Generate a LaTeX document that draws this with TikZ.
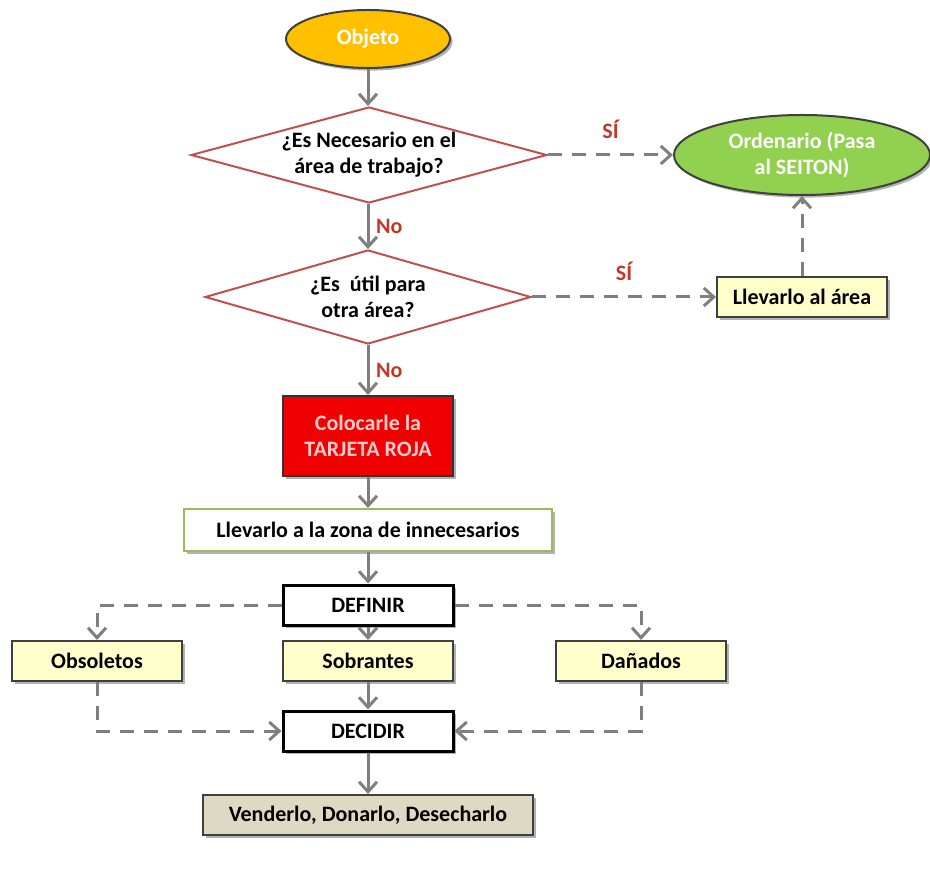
\documentclass[tikz,border=0pt]{standalone}
\usepackage{fontspec}
\setmainfont{Carlito}
\usetikzlibrary{shapes.geometric, arrows.meta, shadows}

\definecolor{arrowgray}{HTML}{7F7F7F}
\definecolor{answerred}{HTML}{C0392B}
\definecolor{diamondred}{HTML}{C0504D}
\definecolor{objetofill}{HTML}{FFC000}
\definecolor{ordenfill}{HTML}{92D050}
\definecolor{tagred}{HTML}{F00000}
\definecolor{paleyellow}{HTML}{FFFFCC}
\definecolor{zonegreen}{HTML}{9BBB59}
\definecolor{tanfill}{HTML}{DDD9C3}
\definecolor{boxborder}{HTML}{404040}

\begin{document}
\begin{tikzpicture}[x=0.5pt, y=-0.5pt,
    every node/.style={font=\fontsize{11}{13}\selectfont\bfseries},
    shade/.style={drop shadow={shadow xshift=1.3pt, shadow yshift=-1.3pt, fill=black, opacity=0.3}},
    block/.style={draw=boxborder, line width=1pt, rectangle, minimum width=85pt, minimum height=20pt, align=center, shade},
    keybox/.style={block, draw=black, line width=1.5pt, fill=white},
    oval/.style={draw=black!75, line width=1pt, ellipse, inner sep=0pt, align=center, text=white, shade},
    decision/.style={draw=diamondred, line width=1pt, diamond, shape aspect=3.7, inner sep=0pt, align=center, fill=white},
    answer/.style={text=answerred},
    arrow/.style={-{Straight Barb[length=5pt, width=9pt]}, line width=1.5pt, draw=arrowgray},
    dashedline/.style={dash pattern=on 7pt off 5pt}]

    \useasboundingbox (0,0) rectangle (930,876);

    % Nodes
    \node[oval, fill=objetofill, minimum width=82pt, minimum height=29pt] (objeto) at (368,39) {Objeto};
    \node[decision, minimum width=178pt, minimum height=48pt] (necesario) at (369,155) {¿Es Necesario en el\\área de trabajo?};
    \node[oval, fill=ordenfill, minimum width=128pt, minimum height=40pt] (ordenar) at (802,155) {Ordenario (Pasa\\al SEITON)};
    \node[decision, minimum width=163pt, minimum height=47pt] (util) at (368,297) {¿Es~ útil para\\otra área?};
    \node[block, fill=paleyellow] (llevar) at (802,297) {Llevarlo al área};
    \node[block, draw=black!80, fill=tagred, text=white!80!red, minimum height=40pt] (tarjeta) at (368,436) {Colocarle la\\TARJETA ROJA};
    \node[block, draw=zonegreen, fill=white, minimum width=184pt, minimum height=21pt] (zona) at (368,530) {Llevarlo a la zona de innecesarios};
    \node[keybox] (definir) at (368,605) {DEFINIR};
    \node[block, fill=paleyellow] (obsoletos) at (97,661) {Obsoletos};
    \node[block, fill=paleyellow] (sobrantes) at (368,661) {Sobrantes};
    \node[block, fill=paleyellow] (danados) at (641,661) {Dañados};
    \node[keybox] (decidir) at (368,731) {DECIDIR};
    \node[block, fill=tanfill, minimum width=165pt] (vender) at (368,815) {Venderlo, Donarlo, Desecharlo};

    % Arrows
    \draw[arrow] (objeto) -- (objeto |- necesario.north);
    \draw[arrow, dashedline] (necesario) -- node[above=4pt, answer] {SÍ} (ordenar);
    \draw[arrow] (necesario.south -| util) -- node[right, answer] {No} (util);
    \draw[arrow, dashedline] (util) -- node[above=4pt, answer] {SÍ} (llevar);
    \draw[arrow, dashedline] (llevar) -- (ordenar);
    \draw[arrow] (util) -- node[right, answer] {No} (tarjeta);
    \draw[arrow] (tarjeta) -- (zona);
    \draw[arrow] (zona) -- (definir);
    \draw[arrow, dashedline] (definir.west) -| (obsoletos.north);
    \draw[arrow] (definir) -- (sobrantes);
    \draw[arrow, dashedline] (definir.east) -| (danados.north);
    \draw[arrow, dashedline] (obsoletos.south) |- (decidir.west);
    \draw[arrow] (sobrantes) -- (decidir);
    \draw[arrow, dashedline] (danados.south) |- (decidir.east);
    \draw[arrow] (decidir) -- (vender);
\end{tikzpicture}
\end{document}
